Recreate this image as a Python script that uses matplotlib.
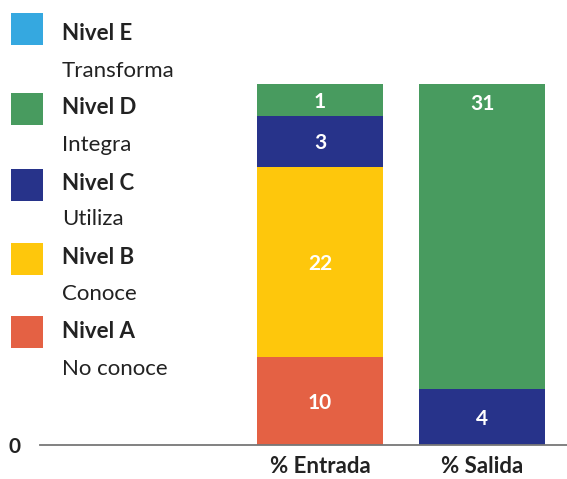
import matplotlib
matplotlib.use('Agg')
import matplotlib.pyplot as plt
from matplotlib.patches import Rectangle

plt.rcParams['font.family'] = ['Lato', 'DejaVu Sans']

# bar heights (percent of each column) and the counts written on them
categories = ['% Entrada', '% Salida']
nivel_a = [24.4, 0.0]
nivel_b = [52.6, 0.0]
nivel_c = [14.1, 15.5]
nivel_d = [8.9, 84.5]
labels_a = ['10', '']
labels_b = ['22', '']
labels_c = ['3', '4']
labels_d = ['1', '31']

legend_names = ['Nivel E', 'Nivel D', 'Nivel C', 'Nivel B', 'Nivel A']
legend_subs = ['Transforma', 'Integra', 'Utiliza', 'Conoce', 'No conoce']
colors = {'E': '#35A8E0', 'D': '#489B5F', 'C': '#27338A', 'B': '#FEC70C', 'A': '#E46144'}

W, H = 567, 479
fig = plt.figure(figsize=(W / 100, H / 100), dpi=100)
ax = fig.add_axes([40 / W, (H - 445) / H, 527 / W, (445 - 83.5) / H])

x = [0, 1]
width = 0.78
bottom = [0.0, 0.0]
for vals, labs, key in [(nivel_a, labels_a, 'A'), (nivel_b, labels_b, 'B'),
                        (nivel_c, labels_c, 'C'), (nivel_d, labels_d, 'D')]:
    ax.bar(x, vals, width, bottom=bottom, color=colors[key], linewidth=0)
    for i in range(2):
        if vals[i] > 0:
            ypos = bottom[i] + vals[i] / 2 - 0.6
            if key == 'D' and i == 1:
                ypos = bottom[i] + vals[i] - 5.7
            ax.text(x[i], ypos, labs[i], ha='center', va='center',
                    color='white', fontsize=15, fontweight='bold')
    bottom = [bottom[i] + vals[i] for i in range(2)]

ax.set_xlim(-1.728, 1.525)
ax.set_ylim(0, 100)
for s in ['top', 'right', 'left']:
    ax.spines[s].set_visible(False)
ax.spines['bottom'].set_color('#777777')
ax.spines['bottom'].set_linewidth(1.3)
ax.set_xticks(x)
ax.set_xticklabels(categories, fontsize=16, fontweight='bold', color='#222222')
ax.tick_params(axis='x', length=0, pad=8)
ax.set_yticks([0])
ax.set_yticklabels(['0'], fontsize=15, fontweight='bold', color='#222222')
ax.tick_params(axis='y', length=0, pad=14)

# legend drawn by hand on the left
keys = ['E', 'D', 'C', 'B', 'A']
box_tops = [13, 93, 169, 243, 316]
name_y = [34, 108, 184, 258, 332]
sub_y = [71, 145, 219, 294, 369]
for k, name, sub, t, ny, sy in zip(keys, legend_names, legend_subs, box_tops, name_y, sub_y):
    fig.add_artist(Rectangle((11 / W, (H - t - 32) / H), 32 / W, 32 / H,
                             transform=fig.transFigure, color=colors[k], lw=0))
    fig.text(62 / W, (H - ny) / H, name, fontsize=16, fontweight='bold',
             color='#222222', va='center', ha='left')
    fig.text(62 / W, (H - sy) / H, sub, fontsize=16,
             color='#222222', va='center', ha='left')

fig.savefig('out.png', dpi=100)
